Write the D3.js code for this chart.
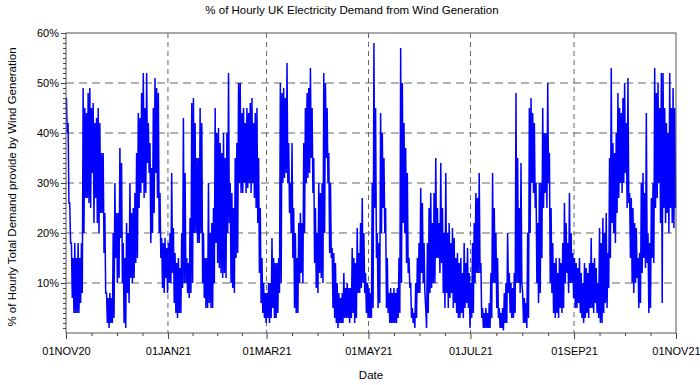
<!DOCTYPE html>
<html lang="en">
    <head>
        <meta charset="utf-8">
        <title>% of Hourly UK Electricity Demand from Wind Generation</title>
        <script type="text/javascript" src="https://cdn.jsdelivr.net/npm/d3@7/dist/d3.min.js"></script>
        <style type="text/css">
          body { margin: 0; background: #fff; }
          text { font-family: "Liberation Sans", Arial, sans-serif; fill: #000; }
          .axis path, .axis line { stroke: #444; }
          .axis text { font-size: 11px; }
        </style>
    </head>
    <body>
        <script type="text/javascript">

          // daily high / low of the hourly share (%), 01NOV20 .. 31OCT21
          var startDay = "2020-11-01";
          var dailyMax = [
            47,42,26,18,15,18,15,18,15,18, 49,45,44,48,49,45,46,42,43,45,
            42,36,36,24,8,7,8,7,20,30, 24,24,37,34,18,15,22,20,30,24,
            25,28,36,44,43,48,52,45,52,42, 38,33,45,51,49,48,28,19,18,19,
            17,18,20,32,21,16,14,15,13,20, 43,32,15,14,23,46,47,42,35,35,
            45,42,20,15,15,30,20,22,25,45, 40,41,38,36,40,35,40,52,30,28,
            25,35,38,50,50,44,45,42,45,44, 46,47,42,44,45,35,25,15,10,8,
            8,10,10,19,15,14,14,15,50,48, 49,47,54,38,30,38,25,20,15,22,
            24,22,38,45,48,49,53,45,35,25, 20,30,28,30,52,50,45,36,30,17,
            16,14,10,8,7,8,12,9,10,9, 9,17,15,14,21,16,22,27,20,12,
            10,9,8,30,58,45,20,18,44,40, 35,25,15,8,9,8,9,8,9,15,
            57,50,42,37,32,15,10,5,4,10, 15,18,29,26,18,5,18,25,28,22,
            28,35,25,22,34,25,20,32,20,22, 18,21,19,15,16,14,15,12,18,14,
            17,12,10,18,22,28,27,32,14,5, 4,5,4,6,12,32,25,20,15,5,
            4,5,8,10,20,12,10,9,12,48, 35,25,34,8,7,6,20,45,47,44,
            42,30,22,30,30,45,40,40,50,36, 25,18,14,15,12,15,14,18,26,22,
            18,28,20,16,15,14,13,15,12,10, 14,13,12,14,19,14,15,13,10,21,
            18,23,20,24,16,35,53,38,36,40, 48,45,44,47,50,42,51,28,27,25,
            22,21,15,16,30,32,28,44,20,18, 27,30,53,48,50,45,52,52,45,42,
            40,52,45,49,45
          ];
          var dailyMin = [
            40,26,18,7,4,4,4,4,6,8, 20,27,27,26,25,32,22,27,22,20,
            24,24,16,8,2,1,2,2,3,15, 10,11,19,10,2,1,8,6,11,10,
            11,14,15,25,28,30,27,28,34,32, 18,20,24,32,27,20,15,9,8,11,
            8,10,10,12,6,4,3,4,4,9, 10,10,8,7,8,10,20,20,18,18,
            20,10,7,5,5,6,5,5,10,18, 14,13,12,11,12,11,20,22,10,9,
            8,15,16,30,28,28,30,28,29,30, 28,30,27,25,22,12,6,4,3,2,
            3,2,3,5,3,3,4,8,10,30, 31,32,30,24,20,15,5,4,4,10,
            12,10,20,30,31,32,35,28,14,9, 8,12,11,10,20,35,30,16,15,5,
            3,2,1,2,2,2,3,3,3,2, 3,4,2,3,8,8,9,10,8,4,
            3,3,3,5,25,15,5,6,20,25, 20,5,4,2,2,2,2,2,3,4,
            10,22,20,14,12,9,3,2,1,3, 8,8,12,10,8,1,4,8,9,10,
            10,15,15,12,14,8,5,8,5,7, 8,5,6,4,3,3,4,3,5,6,
            5,1,3,4,10,12,12,12,3,1, 1,1,1,1,3,10,10,5,3,1,
            1,0.5,2,2,8,4,3,3,4,10, 10,8,10,2,2,1,3,20,30,28,
            25,10,6,8,15,25,28,25,30,10, 8,4,3,4,3,5,4,5,10,12,
            8,10,10,7,5,5,6,4,3,2, 3,4,3,5,5,4,6,4,3,2,
            2,4,6,5,9,15,22,20,18,24, 27,30,28,30,32,25,26,15,10,8,
            10,11,5,6,12,15,13,14,4,5, 15,14,25,27,30,22,6,25,22,24,
            20,25,22,21,25
          ];
          var xTickDates = ["2020-11-01", "2021-01-01", "2021-03-01", "2021-05-01",
                            "2021-07-01", "2021-09-01", "2021-11-01"];
          var yTicks = [10, 20, 30, 40, 50, 60];

          var w = 700;
          var h = 385;
          var margin = {top: 33, right: 24, bottom: 52, left: 66},
              width = w - margin.left - margin.right,
              height = h - margin.top - margin.bottom;

          var parse = d3.utcParse("%Y-%m-%d");
          var fmt = d3.utcFormat("%d%b%y");
          var t0 = parse(startDay);
          var majors = xTickDates.map(parse);

          // two readings per day: the high at 06:00, the low at 18:00
          var points = [];
          dailyMax.forEach(function(v, i) {
            var day = d3.utcDay.offset(t0, i);
            points.push({date: d3.utcHour.offset(day, 6), value: v});
            points.push({date: d3.utcHour.offset(day, 18), value: dailyMin[i]});
          });

          var xScale = d3.scaleUtc()
                         .domain([majors[0], majors[majors.length - 1]])
                         .range([margin.left, margin.left + width]);

          var yScale = d3.scaleLinear()
                         .domain([0, 60])
                         .range([margin.top + height, margin.top]);

          var svg = d3.select("body")
                      .append("svg")
                      .attr("width", w)
                      .attr("height", h);

          // grid
          svg.append("g")
             .selectAll("line")
             .data(yTicks.slice(0, -1))
             .enter()
             .append("line")
             .attr("x1", margin.left)
             .attr("x2", margin.left + width)
             .attr("y1", d => yScale(d))
             .attr("y2", d => yScale(d))
             .attr("stroke", "#666")
             .attr("stroke-dasharray", "8,5");

          svg.append("g")
             .selectAll("line")
             .data(majors.slice(1, -1))
             .enter()
             .append("line")
             .attr("x1", d => xScale(d))
             .attr("x2", d => xScale(d))
             .attr("y1", margin.top)
             .attr("y2", margin.top + height)
             .attr("stroke", "#666")
             .attr("stroke-dasharray", "5,4");

          // series
          var line = d3.line()
                       .x(d => xScale(d.date))
                       .y(d => yScale(d.value));

          svg.append("path")
             .datum(points)
             .attr("fill", "none")
             .attr("stroke", "#0000ff")
             .attr("stroke-width", 1.5)
             .attr("d", line);

          // frame
          svg.append("rect")
             .attr("x", margin.left)
             .attr("y", margin.top)
             .attr("width", width)
             .attr("height", height)
             .attr("fill", "none")
             .attr("stroke", "#555");

          // minor ticks: three between each pair of labelled dates
          var minors = [];
          for (var i = 0; i < majors.length - 1; i++) {
            for (var k = 1; k < 4; k++) {
              minors.push(new Date(+majors[i] + (majors[i + 1] - majors[i]) * k / 4));
            }
          }

          var xAxis = d3.axisBottom(xScale)
                        .tickValues(majors)
                        .tickFormat(d => fmt(d).toUpperCase())
                        .tickSize(6)
                        .tickPadding(8)
                        .tickSizeOuter(0);

          var xMinor = d3.axisBottom(xScale)
                         .tickValues(minors)
                         .tickFormat("")
                         .tickSize(3)
                         .tickSizeOuter(0);

          svg.append("g")
             .attr("class", "axis")
             .attr("transform", "translate(0," + (margin.top + height) + ")")
             .call(xAxis);

          svg.append("g")
             .attr("class", "axis")
             .attr("transform", "translate(0," + (margin.top + height) + ")")
             .call(xMinor);

          var yAxis = d3.axisLeft(yScale)
                        .tickValues(yTicks)
                        .tickFormat(d => d + "%")
                        .tickSize(5)
                        .tickPadding(2)
                        .tickSizeOuter(0);

          var yMinor = d3.axisLeft(yScale)
                         .tickValues(d3.range(1, 60).filter(d => d % 10 !== 0))
                         .tickFormat("")
                         .tickSize(3)
                         .tickSizeOuter(0);

          svg.append("g")
             .attr("class", "axis")
             .attr("transform", "translate(" + margin.left + ",0)")
             .call(yAxis);

          svg.append("g")
             .attr("class", "axis")
             .attr("transform", "translate(" + margin.left + ",0)")
             .call(yMinor);

          svg.selectAll(".axis .domain").remove();

          // titles
          svg.append("text")
             .attr("x", 352)
             .attr("y", 14)
             .attr("text-anchor", "middle")
             .style("font-size", "11.5px")
             .text("% of Hourly UK Electricity Demand from Wind Generation");

          svg.append("text")
             .attr("x", margin.left + width / 2)
             .attr("y", 379)
             .attr("text-anchor", "middle")
             .style("font-size", "11.5px")
             .text("Date");

          svg.append("text")
             .attr("transform", "translate(16," + (margin.top + height / 2 + 4) + ") rotate(-90)")
             .attr("text-anchor", "middle")
             .style("font-size", "11.5px")
             .text("% of Hourly Total Demand provide by Wind Generation");

        </script>
    </body>
</html>
